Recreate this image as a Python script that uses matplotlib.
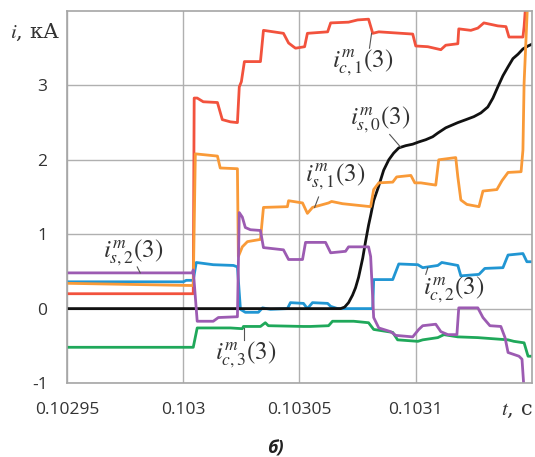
import matplotlib
matplotlib.use("Agg")
import matplotlib.pyplot as plt

plt.rcParams['mathtext.fontset'] = 'stix'
plt.rcParams['axes.unicode_minus'] = False

# time axis, s ; currents, kA
t_c1 = [0.10295, 0.1030043, 0.1030047, 0.1030060, 0.1030086, 0.1030147, 0.1030168, 0.1030203,
        0.1030233, 0.1030241, 0.1030250, 0.1030263, 0.1030332, 0.1030345, 0.1030431, 0.1030453,
        0.1030474, 0.1030483, 0.1030522, 0.1030534, 0.1030621, 0.1030634, 0.1030711, 0.1030750,
        0.1030797, 0.1030815, 0.1030841, 0.1030987, 0.1031000, 0.1031052, 0.1031108, 0.1031129,
        0.1031181, 0.1031185, 0.1031237, 0.1031267, 0.1031293, 0.1031353, 0.1031388, 0.1031401,
        0.1031461, 0.1031466, 0.1031480]
i_c1 = [0.20, 0.20, 2.83, 2.83, 2.78, 2.77, 2.54, 2.51,
        2.50, 2.98, 3.05, 3.32, 3.32, 3.74, 3.70, 3.57,
        3.52, 3.50, 3.52, 3.70, 3.72, 3.84, 3.85, 3.88,
        3.89, 3.70, 3.72, 3.69, 3.53, 3.52, 3.48, 3.54,
        3.56, 3.76, 3.74, 3.77, 3.84, 3.80, 3.79, 3.65,
        3.65, 3.79, 4.40]

t_s1 = [0.10295, 0.1030043, 0.1030052, 0.1030147, 0.1030159, 0.1030233, 0.1030237, 0.1030254,
        0.1030276, 0.1030332, 0.1030345, 0.1030448, 0.1030453, 0.1030513, 0.1030534, 0.1030556,
        0.1030625, 0.1030638, 0.1030685, 0.1030806, 0.1030819, 0.1030841, 0.1030901, 0.1030918,
        0.1030979, 0.1030996, 0.1031022, 0.1031086, 0.1031099, 0.1031172, 0.1031181, 0.1031194,
        0.1031220, 0.1031272, 0.1031289, 0.1031349, 0.1031371, 0.1031397, 0.1031453, 0.1031461,
        0.1031466, 0.1031485]
i_s1 = [0.34, 0.31, 2.08, 2.05, 1.89, 1.88, 0.70, 0.83,
        0.90, 0.93, 1.36, 1.37, 1.45, 1.42, 1.28, 1.36,
        1.42, 1.44, 1.41, 1.37, 1.60, 1.69, 1.70, 1.77,
        1.79, 1.69, 1.69, 1.66, 2.00, 2.03, 1.77, 1.46,
        1.40, 1.37, 1.58, 1.60, 1.72, 1.83, 1.84, 2.13,
        3.03, 4.40]

t_c2 = [0.10295, 0.1030000, 0.1030013, 0.1030043, 0.1030056, 0.1030129, 0.1030216, 0.1030233,
        0.1030246, 0.1030267, 0.1030323, 0.1030341, 0.1030375, 0.1030448, 0.1030461, 0.1030517,
        0.1030534, 0.1030556, 0.1030621, 0.1030634, 0.1030664, 0.1030815, 0.1030819, 0.1030901,
        0.1030927, 0.1031009, 0.1031030, 0.1031095, 0.1031112, 0.1031181, 0.1031194, 0.1031272,
        0.1031297, 0.1031375, 0.1031397, 0.1031461, 0.1031478, 0.1031504]
i_c2 = [0.36, 0.36, 0.38, 0.38, 0.62, 0.59, 0.58, 0.56,
        -0.01, -0.05, -0.05, 0.01, -0.01, 0.00, 0.08, 0.07,
        0.00, 0.08, 0.07, 0.03, 0.00, 0.00, 0.39, 0.39,
        0.60, 0.59, 0.55, 0.58, 0.62, 0.58, 0.44, 0.46,
        0.54, 0.55, 0.72, 0.74, 0.63, 0.63]

t_s2 = [0.10295, 0.1030039, 0.1030043, 0.1030060, 0.1030129, 0.1030151, 0.1030228, 0.1030233,
        0.1030241, 0.1030254, 0.1030267, 0.1030289, 0.1030332, 0.1030345, 0.1030431, 0.1030453,
        0.1030513, 0.1030526, 0.1030612, 0.1030634, 0.1030698, 0.1030711, 0.1030797, 0.1030806,
        0.1030819, 0.1030841, 0.1030892, 0.1030914, 0.1030987, 0.1031013, 0.1031030, 0.1031086,
        0.1031108, 0.1031138, 0.1031177, 0.1031185, 0.1031267, 0.1031289, 0.1031319, 0.1031366,
        0.1031384, 0.1031397, 0.1031444, 0.1031457, 0.1031466]
i_s2 = [0.48, 0.48, 0.52, -0.17, -0.17, -0.12, -0.11, -0.11,
        1.29, 1.23, 1.09, 1.06, 1.05, 0.82, 0.79, 0.66,
        0.66, 0.89, 0.89, 0.75, 0.77, 0.83, 0.83, 0.70,
        -0.12, -0.26, -0.31, -0.36, -0.38, -0.28, -0.23, -0.21,
        -0.31, -0.35, -0.35, 0.01, 0.01, -0.12, -0.23, -0.24,
        -0.39, -0.59, -0.64, -0.68, -1.10]

t_c3 = [0.10295, 0.1030043, 0.1030060, 0.1030203, 0.1030254, 0.1030259, 0.1030332, 0.1030353,
        0.1030366, 0.1030517, 0.1030547, 0.1030625, 0.1030642, 0.1030733, 0.1030797, 0.1030819,
        0.1030901, 0.1030922, 0.1031009, 0.1031030, 0.1031095, 0.1031121, 0.1031181, 0.1031267,
        0.1031397, 0.1031422, 0.1031466, 0.1031483, 0.1031509]
i_c3 = [-0.52, -0.52, -0.26, -0.26, -0.27, -0.24, -0.24, -0.19,
        -0.23, -0.24, -0.24, -0.23, -0.17, -0.17, -0.19, -0.28,
        -0.32, -0.42, -0.44, -0.42, -0.39, -0.35, -0.38, -0.39,
        -0.42, -0.44, -0.46, -0.64, -0.64]

t_s0 = [0.10295, 0.1030677, 0.1030694, 0.1030711, 0.1030728, 0.1030741, 0.1030754, 0.1030772,
        0.1030784, 0.1030797, 0.1030806, 0.1030819, 0.1030841, 0.1030862, 0.1030884, 0.1030905,
        0.1030927, 0.1030957, 0.1030987, 0.1031013, 0.1031043, 0.1031073, 0.1031095, 0.1031129,
        0.1031181, 0.1031216, 0.1031250, 0.1031280, 0.1031310, 0.1031332, 0.1031353, 0.1031375,
        0.1031397, 0.1031418, 0.1031440, 0.1031461, 0.1031483, 0.1031504]
i_s0 = [0.00, 0.00, 0.02, 0.08, 0.18, 0.28, 0.42, 0.68,
        0.90, 1.12, 1.25, 1.45, 1.65, 1.86, 2.00, 2.09,
        2.16, 2.19, 2.21, 2.24, 2.27, 2.31, 2.36, 2.43,
        2.50, 2.54, 2.58, 2.63, 2.71, 2.83, 2.98, 3.13,
        3.25, 3.36, 3.42, 3.49, 3.53, 3.56]

x_ticks = [0.10295, 0.103, 0.10305, 0.1031]
x_labels = ['0.10295', '0.103', '0.10305', '0.1031']
y_ticks = [-1, 0, 1, 2, 3]

# label: text, text position, leader start, leader end
labels = [
    (r'$i_{c,1}^{m}(3)$', (0.1030772, 3.30), (0.1030810, 3.70), (0.1030801, 3.50)),
    (r'$i_{s,0}^{m}(3)$', (0.1030849, 2.54), (0.1030888, 2.34), (0.1030935, 2.17)),
    (r'$i_{s,1}^{m}(3)$', (0.1030655, 1.77), (0.1030582, 1.50), (0.1030565, 1.36)),
    (r'$i_{s,2}^{m}(3)$', (0.1029784, 0.75), (0.1029802, 0.56), (0.1029815, 0.48)),
    (r'$i_{c,3}^{m}(3)$', (0.1030267, -0.62), (0.1030263, -0.42), (0.1030263, -0.26)),
    (r'$i_{c,2}^{m}(3)$', (0.1031164, 0.26), (0.1031043, 0.46), (0.1031052, 0.55)),
]

fig = plt.figure(figsize=(5.35, 4.57), dpi=100)
ax = fig.add_axes([67 / 535, 1 - 383 / 457, 465 / 535, 372 / 457])

lw = 2.0
ax.plot(t_c3, i_c3, color='#1fa85a', lw=lw)
ax.plot(t_c2, i_c2, color='#2196d3', lw=lw)
ax.plot(t_s0, i_s0, color='#111111', lw=lw)
ax.plot(t_c1, i_c1, color='#f2523d', lw=lw)
ax.plot(t_s1, i_s1, color='#f99a38', lw=lw)
ax.plot(t_s2, i_s2, color='#9c5bb2', lw=lw)

for txt, pos, p1, p2 in labels:
    ax.text(pos[0], pos[1], txt, fontsize=18, color='#333333', ha='center', va='center')
    ax.plot([p1[0], p2[0]], [p1[1], p2[1]], color='#555555', lw=0.8)

ax.set_xlim(0.10295, 0.10315)
ax.set_ylim(-1, 4)
ax.set_xticks(x_ticks)
ax.set_xticklabels(x_labels)
ax.set_yticks(y_ticks)
ax.grid(True, color='#b0b0b0', lw=1.0)
ax.set_axisbelow(True)
for s in ax.spines.values():
    s.set_color('#a6a6a6')
    s.set_linewidth(1.2)
ax.tick_params(length=0, labelsize=12.5, labelcolor='#333333', pad=14)
for lab in ax.get_xticklabels() + ax.get_yticklabels():
    lab.set_family('Open Sans')

fig.text(10 / 535, 1 - 32 / 457, '$i$, кА', fontsize=15, family='DejaVu Serif',
         color='#333333', ha='left', va='center')
fig.text(533 / 535, 1 - 410 / 457, '$t$, с', fontsize=15, family='DejaVu Serif',
         color='#333333', ha='right', va='center')
fig.text(275 / 535, 1 - 449 / 457, 'б)', fontsize=13, style='italic', weight='bold',
         family='Open Sans', color='#222222', ha='center', va='center')

fig.savefig('out.png', dpi=100)
